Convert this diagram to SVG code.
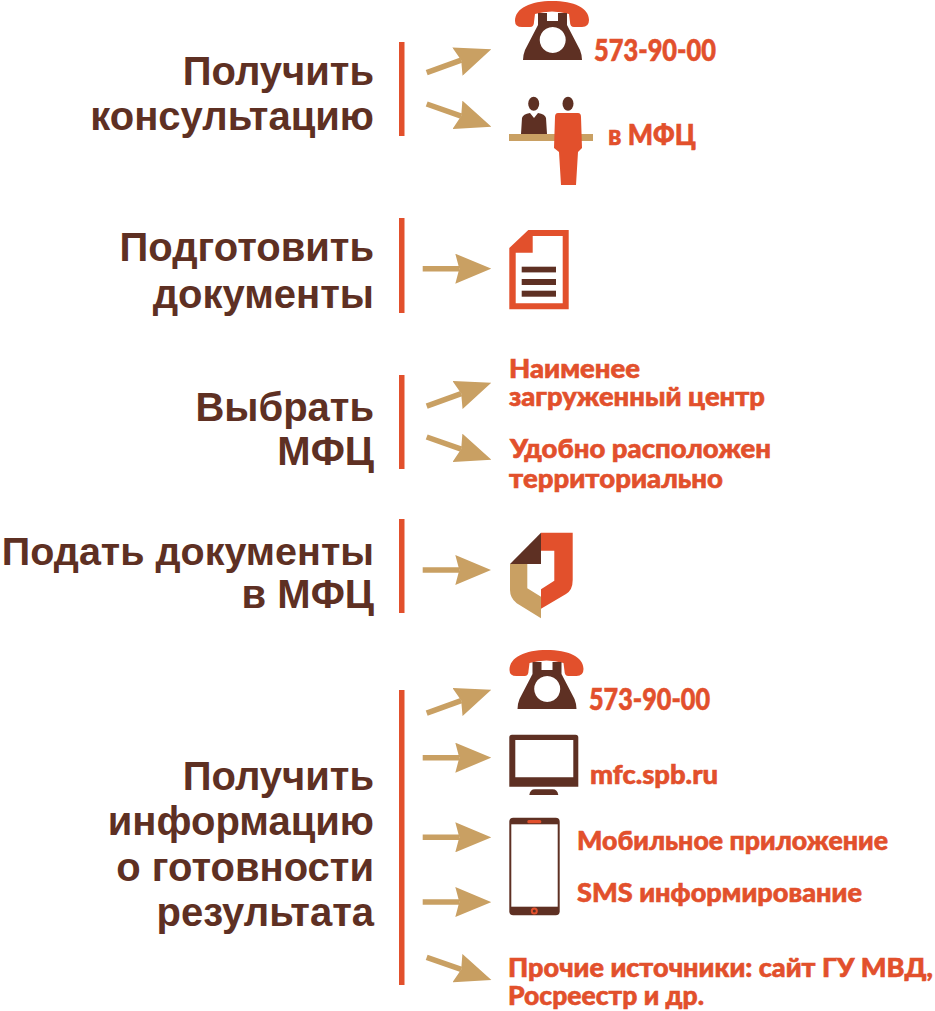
<svg xmlns="http://www.w3.org/2000/svg" xmlns:xlink="http://www.w3.org/1999/xlink" width="935" height="1011" viewBox="0 0 935 1011">
<style>
.l{font-family:"Liberation Sans",Arial,sans-serif;font-weight:700;font-size:40px;fill:#5e3023;text-anchor:end}
.t{font-family:Lato,"Open Sans",sans-serif;font-weight:900;font-size:26px;fill:#e2502c;stroke:#e2502c;stroke-width:.6px}
.bar{fill:#e2502c}
.o{fill:#e2502c}.b{fill:#5e3023}.g{fill:#c9a063}
.c line{stroke:#c9a063;stroke-width:5.500;marker-end:url(#head)}
</style>
<defs>
<marker id="head" markerUnits="userSpaceOnUse" viewBox="0 0 36 30" markerWidth="36" markerHeight="30" refX="4" refY="15" orient="auto"><path d="M0 0L36 15L0 30L4 15Z" fill="#c9a063"/></marker>
<g id="phone">
<path class="o" d="M515 21C515 8 531 1 552 1C574 1 589 8 589 20Q589 27 582 27H574Q570 27 570 22L569 14Q552 9 535 14L534 22Q534 27 530 27H522Q515 27 515 21Z"/>
<path class="b" fill-rule="evenodd" d="M538 13H547V21H558V13H567V25L580 50Q582 55 582 60H523Q523 55 525 50L538 25ZM552.700 27a13 13 0 1 0 .01 0Z"/>
</g>
</defs>
<g id="bars">
<rect class="bar" x="399" y="42" width="5.500" height="94"/>
<rect class="bar" x="399" y="218" width="5.500" height="95"/>
<rect class="bar" x="399" y="375" width="5.500" height="94"/>
<rect class="bar" x="399" y="519" width="5.500" height="94"/>
<rect class="bar" x="399" y="690" width="5.500" height="295"/>
</g>
<g id="connectors" class="c">
<line x1="426.700" y1="72.700" x2="461.200" y2="60.200"/>
<line x1="426.700" y1="104" x2="461.200" y2="116.100"/>
<line x1="422.700" y1="268.700" x2="459.300" y2="268.700"/>
<line x1="426.700" y1="406.100" x2="461.200" y2="393.600"/>
<line x1="426.700" y1="437" x2="461.200" y2="449.100"/>
<line x1="422.700" y1="570" x2="459.300" y2="570"/>
<line x1="426.700" y1="713.100" x2="461.200" y2="700.600"/>
<line x1="422.700" y1="757.700" x2="459.300" y2="757.700"/>
<line x1="422.700" y1="837.300" x2="459.300" y2="837.300"/>
<line x1="422.700" y1="902" x2="459.300" y2="902"/>
<line x1="426.700" y1="957.300" x2="461.200" y2="969.400"/>
</g>
<g id="node-consult">
<text class="l" x="374" y="85">Получить</text>
<text class="l" x="374" y="130">консультацию</text>
<use href="#phone" xlink:href="#phone"/>
<text class="t" x="594" y="61" textLength="122" lengthAdjust="spacingAndGlyphs" style="font-size:30px">573-90-00</text>
<rect class="g" x="509" y="134" width="84" height="7"/>
<ellipse class="b" cx="533.700" cy="103.700" rx="5.500" ry="7"/>
<path class="b" d="M521 134L522 118Q523 114 530 113L534 118L538 113Q545 114 546 118L547 134Z"/>
<ellipse class="b" cx="568" cy="103.700" rx="5.500" ry="7"/>
<path class="o" d="M558 113H578Q581 113 581 117L582 148L578 152L576 185H561L559 152L554 148L555 117Q555 113 558 113Z"/>
<text class="t" x="608" y="145" textLength="88" lengthAdjust="spacingAndGlyphs" style="font-size:29px">в МФЦ</text>
</g>
<g id="node-docs">
<text class="l" x="374" y="261">Подготовить</text>
<text class="l" x="374" y="308">документы</text>
<path class="o" fill-rule="evenodd" d="M528.300 230H568.700V309.300H509.300V248ZM532.700 236V252.700H515.700V303.300H562.700V236Z"/>
<rect class="b" x="521.700" y="266.700" width="34.300" height="5.700"/>
<rect class="b" x="521.700" y="279" width="34.300" height="6"/>
<rect class="b" x="521.700" y="290.700" width="34.300" height="6"/>
</g>
<g id="node-choose">
<text class="l" x="374" y="421">Выбрать</text>
<text class="l" x="374" y="465">МФЦ</text>
<text class="t"><tspan x="509" y="378" textLength="131" lengthAdjust="spacingAndGlyphs">Наименее</tspan><tspan x="509" y="406" textLength="256" lengthAdjust="spacingAndGlyphs">загруженный центр</tspan></text>
<text class="t"><tspan x="510" y="458" textLength="261" lengthAdjust="spacingAndGlyphs">Удобно расположен</tspan><tspan x="509" y="488" textLength="214" lengthAdjust="spacingAndGlyphs">территориально</tspan></text>
</g>
<g id="node-submit">
<text class="l" x="374" y="565" style="font-size:39.500px">Подать документы</text>
<text class="l" x="374" y="608">в МФЦ</text>
<path class="o" d="M541 532.700H572.700V580Q572.700 590 566 594L541 608.700V589.300L554.300 580.700V550.700H541Z"/>
<path class="b" d="M541 532.700L510 564H541Z"/>
<path class="g" d="M510 564H527.300V588.300L541 596.700V618.300L516.700 603.300Q510 598 510 590Z"/>
</g>
<g id="node-status">
<text class="l" x="374" y="790">Получить</text>
<text class="l" x="374" y="835">информацию</text>
<text class="l" x="374" y="881">о готовности</text>
<text class="l" x="374" y="926">результата</text>
<use href="#phone" xlink:href="#phone" x="-5.500" y="649"/>
<text class="t" x="589" y="710" textLength="121" lengthAdjust="spacingAndGlyphs" style="font-size:30px">573-90-00</text>
<path class="b" fill-rule="evenodd" d="M512 734.700H575.500Q578.300 734.700 578.300 737.500V786.700H509.300V737.500Q509.300 734.700 512 734.700ZM515.300 740V777.300H573.300V740Z"/>
<path class="b" d="M529.300 795Q530 789.300 535 789.300H552.500Q557.500 789.300 558.300 795Z"/>
<text class="t" x="590" y="784" textLength="128" lengthAdjust="spacingAndGlyphs">mfc.spb.ru</text>
<rect class="b" x="509.300" y="817.700" width="50.400" height="97.600" rx="4"/>
<rect x="511.300" y="824.300" width="46.400" height="82.400" fill="#fff"/>
<rect class="o" x="527.300" y="820" width="14" height="3.300" rx="1.500"/>
<circle class="o" cx="534.300" cy="911" r="3.500"/>
<circle class="b" cx="534.300" cy="911" r="1.500"/>
<text class="t" x="577" y="850" textLength="311" lengthAdjust="spacingAndGlyphs">Мобильное приложение</text>
<text class="t" x="577" y="902" textLength="285" lengthAdjust="spacingAndGlyphs">SMS информирование</text>
<text class="t"><tspan x="508" y="977" textLength="425" lengthAdjust="spacingAndGlyphs">Прочие источники: сайт ГУ МВД,</tspan><tspan x="508" y="1005" textLength="196" lengthAdjust="spacingAndGlyphs">Росреестр и др.</tspan></text>
</g>
</svg>
